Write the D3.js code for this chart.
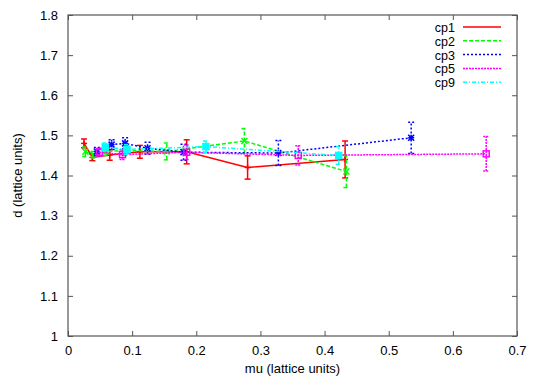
<!DOCTYPE html>
<html>
<head>
<meta charset="utf-8">
<script src="https://cdn.jsdelivr.net/npm/d3@7"></script>
<style>
body { margin: 0; background: #fff; }
text { font-family: "Liberation Sans", Arial, sans-serif; font-size: 13px; fill: #000; }
</style>
</head>
<body>
<div id="chart"></div>
<script>
var w = 540;
var h = 378;

// data: mu, d, error on d
var cp1Mu  = [0.025, 0.038, 0.065, 0.112, 0.185, 0.280, 0.432];
var cp1D   = [1.480, 1.445, 1.451, 1.459, 1.459, 1.420, 1.440];
var cp1Err = [0.011, 0.008, 0.013, 0.016, 0.030, 0.029, 0.046];

var cp2Mu  = [0.027, 0.040, 0.060, 0.090, 0.154, 0.275, 0.434];
var cp2D   = [1.459, 1.452, 1.460, 1.462, 1.460, 1.486, 1.410];
var cp2Err = [0.012, 0.008, 0.010, 0.012, 0.021, 0.031, 0.040];

var cp3Mu  = [0.045, 0.068, 0.089, 0.124, 0.180, 0.328, 0.535];
var cp3D   = [1.460, 1.477, 1.480, 1.468, 1.458, 1.456, 1.494];
var cp3Err = [0.010, 0.012, 0.014, 0.015, 0.020, 0.031, 0.039];

var cp5Mu  = [0.049, 0.085, 0.185, 0.359, 0.652];
var cp5D   = [1.458, 1.452, 1.458, 1.450, 1.454];
var cp5Err = [0.010, 0.012, 0.018, 0.024, 0.043];

var cp9Mu  = [0.058, 0.092, 0.215, 0.422];
var cp9D   = [1.471, 1.465, 1.472, 1.450];
var cp9Err = [0.010, 0.012, 0.014, 0.022];

var xTicks = [0, 0.1, 0.2, 0.3, 0.4, 0.5, 0.6, 0.7];
var yTicks = [1, 1.1, 1.2, 1.3, 1.4, 1.5, 1.6, 1.7, 1.8];

var series = [
  {name: "cp1", mu: cp1Mu, d: cp1D, err: cp1Err, color: "#ff0000", dash: null,      mark: "plus"},
  {name: "cp2", mu: cp2Mu, d: cp2D, err: cp2Err, color: "#00ff00", dash: "4,2",     mark: "cross"},
  {name: "cp3", mu: cp3Mu, d: cp3D, err: cp3Err, color: "#0000ff", dash: "2,2",     mark: "star"},
  {name: "cp5", mu: cp5Mu, d: cp5D, err: cp5Err, color: "#ff00ff", dash: "2,1",     mark: "box"},
  {name: "cp9", mu: cp9Mu, d: cp9D, err: cp9Err, color: "#00ffff", dash: "4,2,1,2", mark: "fbox"}
];

var pLeft = 68, pRight = 517, pTop = 15, pBottom = 336;

var svg = d3.select("#chart")
    .append("svg")
    .attr("width", w)
    .attr("height", h);

var xScale = d3.scaleLinear().domain([0, 0.7]).range([pLeft, pRight]),
    yScale = d3.scaleLinear().domain([1, 1.8]).range([pBottom, pTop]);

// axes with inward ticks, mirrored on top / right
svg.append("g")
   .attr("transform", "translate(0," + pBottom + ")")
   .call(d3.axisBottom(xScale).tickValues(xTicks).tickFormat(d3.format("")).tickSizeInner(-5).tickSizeOuter(0).tickPadding(10));
svg.append("g")
   .attr("transform", "translate(0," + pTop + ")")
   .call(d3.axisTop(xScale).tickValues(xTicks).tickFormat("").tickSizeInner(-5).tickSizeOuter(0));
svg.append("g")
   .attr("transform", "translate(" + pLeft + ",0)")
   .call(d3.axisLeft(yScale).tickValues(yTicks).tickFormat(d3.format("")).tickSizeInner(-5).tickSizeOuter(0).tickPadding(10));
svg.append("g")
   .attr("transform", "translate(" + pRight + ",0)")
   .call(d3.axisRight(yScale).tickValues(yTicks).tickFormat("").tickSizeInner(-5).tickSizeOuter(0));

svg.selectAll(".domain").remove();
svg.selectAll(".tick line").attr("stroke", "#555");
svg.selectAll(".tick text")
   .style("font-size", "13px")
   .style("font-family", "'Liberation Sans', Arial, sans-serif")
   .attr("fill", "#000");

svg.append("rect")
   .attr("x", pLeft).attr("y", pTop)
   .attr("width", pRight - pLeft).attr("height", pBottom - pTop)
   .attr("fill", "none").attr("stroke", "#555").attr("stroke-width", 1.2);

// axis labels
svg.append("text")
   .attr("x", (pLeft + pRight) / 2).attr("y", 373)
   .attr("text-anchor", "middle")
   .text("mu (lattice units)");
svg.append("text")
   .attr("transform", "translate(22," + ((pTop + pBottom) / 2) + ") rotate(-90)")
   .attr("text-anchor", "middle")
   .text("d (lattice units)");

function marker(g, kind, color) {
  var s = 3;
  if (kind == "plus" || kind == "star") {
    g.append("line").attr("x1", -s).attr("x2", s).attr("y1", 0).attr("y2", 0);
    g.append("line").attr("x1", 0).attr("x2", 0).attr("y1", -s).attr("y2", s);
  }
  if (kind == "cross" || kind == "star") {
    g.append("line").attr("x1", -s).attr("x2", s).attr("y1", -s).attr("y2", s);
    g.append("line").attr("x1", -s).attr("x2", s).attr("y1", s).attr("y2", -s);
  }
  if (kind == "box") {
    g.append("rect").attr("x", -s).attr("y", -s).attr("width", 2 * s).attr("height", 2 * s).attr("fill", "none");
  }
  if (kind == "fbox") {
    g.append("rect").attr("x", -s).attr("y", -s).attr("width", 2 * s).attr("height", 2 * s).attr("fill", color);
  }
  g.selectAll("line, rect").attr("stroke", color).attr("stroke-width", 1.5);
}

var line = d3.line()
    .x(function(d) { return xScale(d.mu); })
    .y(function(d) { return yScale(d.d); });

series.forEach(function(s) {
  var pts = s.mu.map(function(m, i) { return {mu: m, d: s.d[i], err: s.err[i]}; });
  var g = svg.append("g");

  g.append("path")
   .datum(pts)
   .attr("d", line)
   .attr("fill", "none")
   .attr("stroke", s.color)
   .attr("stroke-width", 1.5)
   .attr("stroke-dasharray", s.dash);

  // error bars
  var eb = g.selectAll(".eb").data(pts).enter().append("g");
  eb.append("line")
    .attr("x1", function(d) { return xScale(d.mu); })
    .attr("x2", function(d) { return xScale(d.mu); })
    .attr("y1", function(d) { return yScale(d.d - d.err); })
    .attr("y2", function(d) { return yScale(d.d + d.err); });
  [1, -1].forEach(function(sg) {
    eb.append("line")
      .attr("x1", function(d) { return xScale(d.mu) - 3; })
      .attr("x2", function(d) { return xScale(d.mu) + 3; })
      .attr("y1", function(d) { return yScale(d.d + sg * d.err); })
      .attr("y2", function(d) { return yScale(d.d + sg * d.err); });
  });
  eb.selectAll("line")
    .attr("stroke", s.color)
    .attr("stroke-width", 1.5)
    .attr("stroke-dasharray", s.dash);

  pts.forEach(function(d) {
    var mg = g.append("g").attr("transform", "translate(" + xScale(d.mu) + "," + yScale(d.d) + ")");
    marker(mg, s.mark, s.color);
  });
});

// legend
var leg = svg.append("g");
series.forEach(function(s, i) {
  var y = 27 + i * 13.8;
  leg.append("text")
     .attr("x", 455).attr("y", y + 5)
     .attr("text-anchor", "end")
     .style("font-size", "12.5px")
     .text(s.name);
  leg.append("line")
     .attr("x1", 463).attr("x2", 501)
     .attr("y1", y).attr("y2", y)
     .attr("stroke", s.color)
     .attr("stroke-width", 1.5)
     .attr("stroke-dasharray", s.dash);
});
</script>
</body>
</html>
